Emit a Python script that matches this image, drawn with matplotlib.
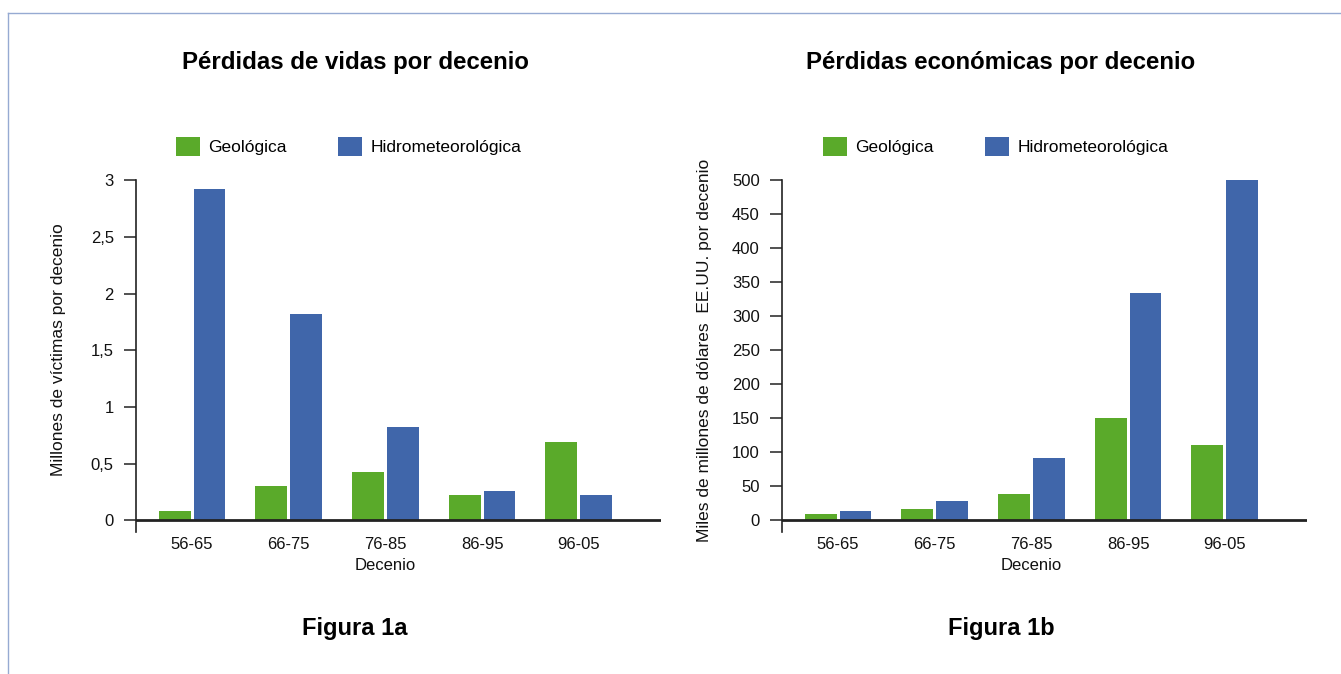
import matplotlib
matplotlib.use("Agg")
import matplotlib.pyplot as plt
from matplotlib.patches import Patch
from matplotlib.lines import Line2D
import matplotlib.transforms as mtransforms
import numpy as np

plt.rcParams['font.family'] = ['Liberation Sans', 'DejaVu Sans']

decades = ["56-65", "66-75", "76-85", "86-95", "96-05"]
lives_geo = [0.08, 0.30, 0.43, 0.22, 0.69]
lives_hydro = [2.92, 1.82, 0.825, 0.26, 0.22]
econ_geo = [10, 16, 39, 151, 111]
econ_hydro = [13, 29, 92, 335, 500]
lives_ticks = [0, 0.5, 1, 1.5, 2, 2.5, 3]
lives_ticklabels = ["0", "0,5", "1", "1,5", "2", "2,5", "3"]
econ_ticks = [0, 50, 100, 150, 200, 250, 300, 350, 400, 450, 500]
series_names = ["Geológica", "Hidrometeorológica"]

GREEN = "#5aaa2a"
BLUE = "#4066aa"
DARK = "#222222"

W, H = 1341, 674
fig = plt.figure(figsize=(W / 100, H / 100), dpi=100)

def fx(px):
    return px / W

def fy(py):
    return 1 - py / H

bottom = fy(531.7)
top = fy(180.3)

def make_panel(left_px, right_px, geo, hydro, ymax, ticks, ticklabels, ylabel,
               title, title_cx, fig_label, legend_x, ylabel_x):
    ax = fig.add_axes([fx(left_px), bottom, fx(right_px) - fx(left_px), top - bottom])
    x = np.arange(len(decades))
    w = 0.33
    off = 0.18
    ax.bar(x - off, geo, width=w, color=GREEN, zorder=2)
    ax.bar(x + off, hydro, width=w, color=BLUE, zorder=2)
    ext = ymax * 11.4 / 340.4
    ax.set_ylim(-ext, ymax)
    ax.set_xlim(-0.58, 4.85)
    for s in ["top", "right", "bottom"]:
        ax.spines[s].set_visible(False)
    ax.spines["left"].set_linewidth(1.2)
    ax.spines["left"].set_color(DARK)
    ax.axhline(0, color=DARK, lw=2.0, zorder=3)
    ax.set_yticks(ticks)
    ax.set_yticklabels(ticklabels)
    ax.tick_params(axis="y", direction="out", length=9, width=1.1, color=DARK,
                   labelsize=12, pad=7, labelcolor="#111111")
    ax.set_xticks(x)
    ax.set_xticklabels(decades)
    ax.tick_params(axis="x", length=0, labelsize=12, pad=3.5, labelcolor="#111111")
    trans = mtransforms.blended_transform_factory(ax.transData, fig.transFigure)
    ax.text(2, fy(566), "Decenio", transform=trans, ha="center", va="center",
            fontsize=12, color="#111111")
    fig.text(fx(ylabel_x), fy(350), ylabel, rotation=90, ha="center", va="center",
             fontsize=12.5, color="#111111")
    fig.text(fx(title_cx), fy(63), title, ha="center", va="center",
             fontsize=17.3, fontweight="bold", color="#000000")
    fig.text(fx(title_cx), fy(629), fig_label, ha="center", va="center",
             fontsize=17, fontweight="bold", color="#000000")
    handles = [Patch(facecolor=GREEN, edgecolor="none"),
               Patch(facecolor=BLUE, edgecolor="none")]
    fig.legend(handles, series_names, loc="center left",
               bbox_to_anchor=(fx(legend_x), fy(146.5)), ncol=2, frameon=False,
               fontsize=12.5, handlelength=1.37, handleheight=1.3,
               handletextpad=0.5, columnspacing=2.95, borderpad=0,
               borderaxespad=0)
    return ax

make_panel(136, 661, lives_geo, lives_hydro, 3, lives_ticks, lives_ticklabels,
           "Millones de víctimas por decenio",
           "Pérdidas de vidas por decenio", 355, "Figura 1a", 176, 58)
make_panel(782, 1307, econ_geo, econ_hydro, 500, econ_ticks,
           [str(t) for t in econ_ticks],
           "Miles de millones de dólares  EE.UU. por decenio",
           "Pérdidas económicas por decenio", 1001, "Figura 1b", 823, 704)

# page frame lines
BORDER = "#96aad2"
fig.add_artist(Line2D([fx(7.5), 1.0], [fy(12.5), fy(12.5)], color=BORDER, lw=1.0,
                      transform=fig.transFigure))
fig.add_artist(Line2D([fx(7.5), fx(7.5)], [fy(12.5), 0.0], color=BORDER, lw=1.0,
                      transform=fig.transFigure))

fig.savefig("out.png", dpi=100)
